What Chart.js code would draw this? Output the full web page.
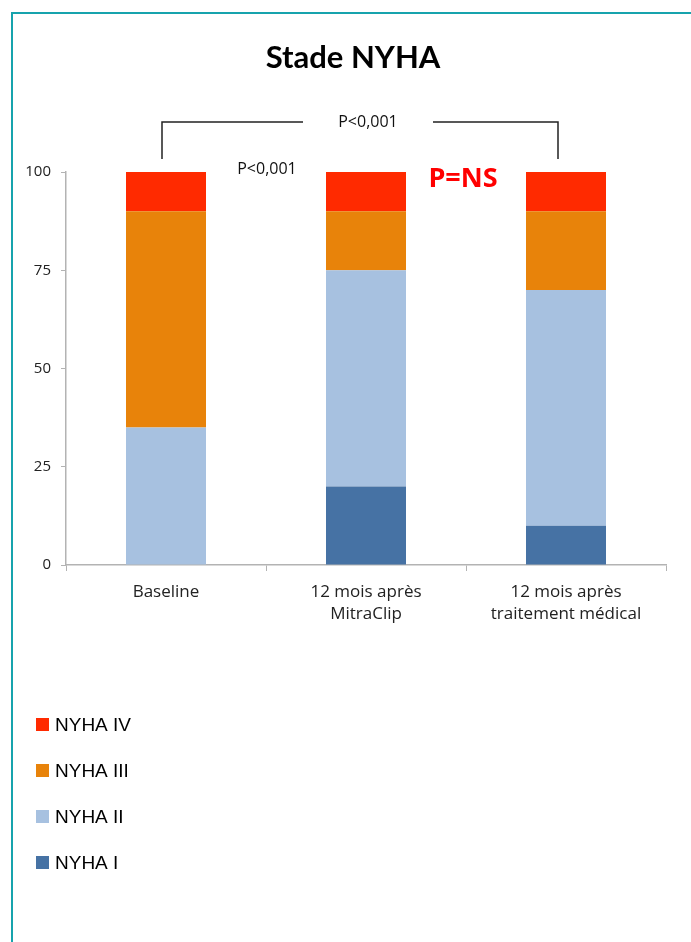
<!DOCTYPE html>
<html lang="fr">
<head>
  <meta charset="UTF-8">
  <title>Stade NYHA</title>
  <script src="https://cdn.jsdelivr.net/npm/chart.js"></script>
  <style>
    html, body { margin: 0; padding: 0; background: #fff; }
    .frame {
      position: relative;
      width: 691px;
      height: 942px;
    }
    .frame::before {
      content: "";
      position: absolute;
      left: 11px; top: 12px; right: 0; bottom: 0;
      border-left: 2px solid #17a3ad;
      border-top: 2px solid #17a3ad;
      pointer-events: none;
    }
    canvas { display: block; }
  </style>
</head>
<body>
  <div class="frame">
    <canvas id="nyhaChart" width="691" height="942"></canvas>
  </div>

  <script>
    // Données (%)
    const categories = [['Baseline'], ['12 mois après', 'MitraClip'], ['12 mois après', 'traitement médical']];
    const nyhaI   = [0, 20, 10];
    const nyhaII  = [35, 55, 60];
    const nyhaIII = [55, 15, 20];
    const nyhaIV  = [10, 10, 10];
    const yTicks  = [0, 25, 50, 75, 100];

    const seriesLabels = ['NYHA I', 'NYHA II', 'NYHA III', 'NYHA IV'];
    const seriesColors = ['#4672a4', '#a7c1e0', '#e8830a', '#ff2a00'];

    // Titre, crochet et valeurs de p
    const annotations = {
      id: 'annotations',
      afterDraw(chart) {
        const ctx = chart.ctx;
        const x = chart.scales.x;
        ctx.save();

        ctx.fillStyle = '#000';
        ctx.font = 'bold 31px Lato';
        ctx.textAlign = 'center';
        ctx.textBaseline = 'alphabetic';
        ctx.fillText('Stade NYHA', 353, 68);

        // crochet Baseline / traitement médical
        const xl = x.getPixelForValue(0) - 4;
        const xr = x.getPixelForValue(2) - 8;
        const top = 122, bottom = 159;
        ctx.strokeStyle = '#222';
        ctx.lineWidth = 1.5;
        ctx.beginPath();
        ctx.moveTo(xl, bottom); ctx.lineTo(xl, top); ctx.lineTo(303, top);
        ctx.moveTo(433, top); ctx.lineTo(xr, top); ctx.lineTo(xr, bottom);
        ctx.stroke();

        ctx.font = '16px "Open Sans"';
        ctx.textBaseline = 'middle';
        ctx.fillStyle = '#111';
        ctx.fillText('P<0,001', 368, 122);
        ctx.fillText('P<0,001', 267, 169);

        ctx.font = 'bold 27px "Open Sans"';
        ctx.fillStyle = '#ff0000';
        ctx.fillText('P=NS', 463, 179);

        // légende verticale (IV en haut)
        ctx.font = '19px "Liberation Sans"';
        ctx.textAlign = 'left';
        const ds = chart.data.datasets;
        for (let i = ds.length - 1, row = 0; i >= 0; i--, row++) {
          const cy = 725 + row * 46;
          ctx.fillStyle = ds[i].backgroundColor;
          ctx.fillRect(36, cy - 7, 13, 13);
          ctx.fillStyle = '#000';
          ctx.fillText(ds[i].label, 55, cy + 1);
        }
        ctx.restore();
      }
    };

    const ctx = document.getElementById('nyhaChart').getContext('2d');
    new Chart(ctx, {
      type: 'bar',
      data: {
        labels: categories,
        datasets: [nyhaI, nyhaII, nyhaIII, nyhaIV].map((d, i) => ({
          label: seriesLabels[i],
          data: d,
          backgroundColor: seriesColors[i],
          borderWidth: 0,
          barPercentage: 0.4,
          categoryPercentage: 1
        }))
      },
      options: {
        responsive: false,
        animation: false,
        layout: { padding: { left: 10, top: 172, right: 25, bottom: 297 } },
        plugins: {
          legend: { display: false },
          tooltip: { enabled: false }
        },
        scales: {
          x: {
            stacked: true,
            afterFit: s => { s.height = 80; },
            border: { color: '#b3b3b3', width: 1.5 },
            grid: { offset: true, drawOnChartArea: false, tickLength: 6, color: '#b3b3b3' },
            ticks: { color: '#222', padding: 10, font: { family: '"Open Sans"', size: 17, lineHeight: 1.3 } }
          },
          y: {
            stacked: true,
            min: 0,
            max: 100,
            afterFit: s => { s.width = 56; },
            afterBuildTicks: s => { s.ticks = yTicks.map(v => ({ value: v })); },
            border: { color: '#b3b3b3', width: 1.5 },
            grid: { drawOnChartArea: false, tickLength: 5, color: '#b3b3b3' },
            ticks: { color: '#222', padding: 10, font: { family: '"Open Sans"', size: 15 } }
          }
        }
      },
      plugins: [annotations]
    });
  </script>
</body>
</html>
